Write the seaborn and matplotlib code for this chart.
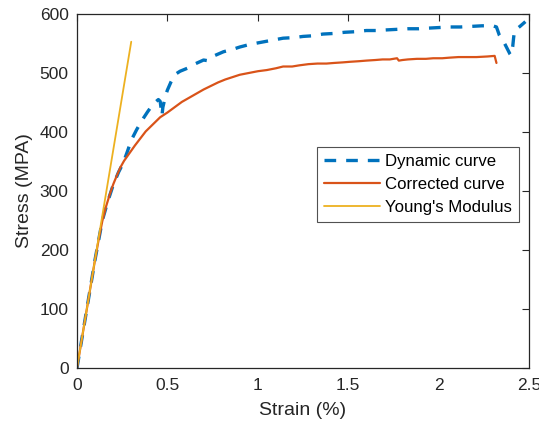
import numpy as np
import pandas as pd
import matplotlib
matplotlib.use("Agg")
import matplotlib.pyplot as plt
import seaborn as sns

# Dynamic (uncorrected) stress-strain curve
dyn_strain = [0, 0.05, 0.10, 0.14, 0.17, 0.20, 0.23, 0.255, 0.28, 0.30, 0.33, 0.36,
              0.39, 0.42, 0.45, 0.46, 0.465, 0.47, 0.475, 0.49, 0.50, 0.52, 0.54, 0.57,
              0.61, 0.65, 0.70, 0.72, 0.75, 0.81, 0.86, 0.90, 0.95, 1.00, 1.07, 1.14,
              1.20, 1.25, 1.30, 1.36, 1.42, 1.48, 1.54, 1.60, 1.66, 1.71, 1.77, 1.83,
              1.89, 1.94, 2.00, 2.06, 2.12, 2.18, 2.24, 2.30, 2.32, 2.336, 2.36, 2.395,
              2.40, 2.41, 2.415, 2.42, 2.45, 2.48]
dyn_stress = [0, 92, 184, 250, 282, 310, 332, 347, 368, 386, 404, 420,
              434, 447, 455, 452, 440, 428, 442, 462, 471, 485, 497, 503,
              508, 515, 522, 521, 528, 536, 540, 544, 548, 551, 555, 559,
              560, 562, 563, 566, 567, 569, 570, 572, 572, 573, 574, 575,
              575, 576, 577, 578, 578, 579, 580, 580, 578, 564, 553, 532,
              530, 545, 560, 572, 579, 587]

# Inertia-corrected curve
cor_strain = [0, 0.05, 0.10, 0.12, 0.14, 0.16, 0.18, 0.20, 0.22, 0.24, 0.26, 0.29,
              0.32, 0.35, 0.38, 0.42, 0.46, 0.50, 0.54, 0.58, 0.62, 0.66, 0.70,
              0.74, 0.78, 0.82, 0.86, 0.90, 0.95, 1.00, 1.05, 1.10, 1.14, 1.19,
              1.23, 1.28, 1.33, 1.38, 1.42, 1.47, 1.51, 1.56, 1.60, 1.65, 1.69,
              1.73, 1.75, 1.77, 1.78, 1.80, 1.83, 1.88, 1.93, 1.97, 2.02, 2.06,
              2.11, 2.16, 2.21, 2.27, 2.31, 2.32]
cor_stress = [0, 92, 184, 218, 249, 273, 293, 311, 326, 340, 351, 364,
              377, 389, 401, 413, 425, 433, 442, 451, 458, 465, 472,
              478, 484, 489, 493, 497, 500, 503, 505, 508, 511, 511,
              513, 515, 516, 516, 517, 518, 519, 520, 521, 522, 523,
              523, 524, 525, 521, 522, 523, 524, 524, 525, 525, 526,
              527, 527, 527, 528, 529, 517]

# Linear elastic (Young's modulus) fit
ym_strain = [0, 0.30]
ym_stress = [0, 553]

blue = "#0072BD"
orange = "#D95319"
yellow = "#EDB120"
ink = "#262626"

sns.set_theme(style="white")
plt.rcParams["font.family"] = ["Liberation Sans", "DejaVu Sans"]
plt.rcParams["text.color"] = ink
plt.rcParams["axes.labelcolor"] = ink
plt.rcParams["xtick.color"] = ink
plt.rcParams["ytick.color"] = ink

fig = plt.figure(figsize=(5.39, 4.30), dpi=100)
ax = fig.add_axes([77 / 539, 1 - 368 / 430, 452 / 539, 354 / 430])

dyn = pd.DataFrame({"strain": dyn_strain, "stress": dyn_stress})
cor = pd.DataFrame({"strain": cor_strain, "stress": cor_stress})
ym = pd.DataFrame({"strain": ym_strain, "stress": ym_stress})

sns.lineplot(data=dyn, x="strain", y="stress", ax=ax, sort=False, estimator=None,
             color=blue, linewidth=2.4, label="Dynamic curve")
ax.lines[-1].set_dashes((3.5, 3))
sns.lineplot(data=cor, x="strain", y="stress", ax=ax, sort=False, estimator=None,
             color=orange, linewidth=1.6, label="Corrected curve")
sns.lineplot(data=ym, x="strain", y="stress", ax=ax, sort=False, estimator=None,
             color=yellow, linewidth=1.3, label="Young's Modulus")

ax.set_xlim(0, 2.5)
ax.set_ylim(0, 600)
ax.set_xticks([0, 0.5, 1, 1.5, 2, 2.5])
ax.set_xticklabels(["0", "0.5", "1", "1.5", "2", "2.5"])
ax.set_yticks([0, 100, 200, 300, 400, 500, 600])

ax.tick_params(axis="both", which="both", direction="in", length=5, width=0.8,
               top=True, right=True, labelsize=12.5)
ax.tick_params(axis="x", pad=7)
ax.tick_params(axis="y", pad=6)
for s in ax.spines.values():
    s.set_color(ink)
    s.set_linewidth(0.9)

ax.set_xlabel("Strain (%)", fontsize=14, labelpad=7)
ax.set_ylabel("Stress (MPA)", fontsize=14, labelpad=5)

leg = ax.legend(loc="upper left", bbox_to_anchor=(240 / 452, (368 - 146.7) / 354),
                fontsize=12.1, frameon=True, fancybox=False, handlelength=3.3,
                handletextpad=0.35, labelspacing=0.48, borderpad=0.42,
                borderaxespad=0)
leg.get_frame().set_edgecolor(ink)
leg.get_frame().set_linewidth(0.8)
for t in leg.get_texts():
    t.set_color("black")

fig.savefig("out.png", dpi=100)
